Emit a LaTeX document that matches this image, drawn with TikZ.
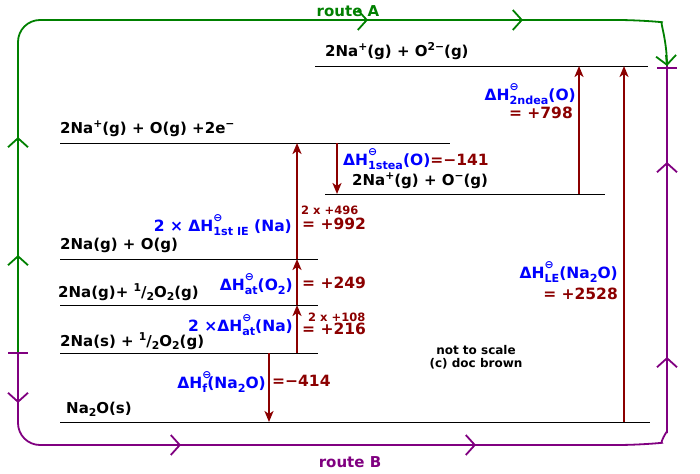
\documentclass[tikz,border=0pt]{standalone}
\usepackage{graphicx}
\usepackage{fontspec}
\setmainfont{DejaVu Sans}
\usetikzlibrary{arrows.meta}
\definecolor{rA}{RGB}{0,128,0}
\definecolor{rB}{RGB}{128,0,128}
\definecolor{dr}{RGB}{139,0,0}
\definecolor{bl}{RGB}{0,0,255}
\newcommand{\sps}[1]{\raisebox{0.4em}{\scalebox{0.72}{#1}}}
\newcommand{\sbs}[1]{\raisebox{-0.25em}{\scalebox{0.72}{#1}}}
\newcommand{\dH}[1]{ΔH\rlap{\raisebox{0.62em}{\scalebox{0.7}{⊖}}}\sbs{#1}}
\newcommand{\half}{\sps{1}/\sbs{2}}
\begin{document}
\begin{tikzpicture}[x=1pt,y=-1pt,
  txt/.style={font=\fontsize{15}{17}\selectfont\bfseries,inner sep=0pt},
  bt/.style={txt,text=bl,font=\fontsize{15.5}{18}\selectfont\bfseries},
  rt/.style={txt,text=dr,font=\fontsize{15.5}{18}\selectfont\bfseries},
  st/.style={font=\fontsize{11.5}{12}\selectfont\bfseries,inner sep=0pt,text=dr},
  lev/.style={black,line width=0.8pt},
  en/.style={dr,line width=2.6pt,-{Stealth[length=11pt,width=9pt,inset=3pt]}},
  chv/.style={-{Straight Barb[length=9pt,width=20pt]},line width=1.8pt}]
\useasboundingbox (0,0) rectangle (700,473);
% levels
\coordinate (L1a) at (315,66); \coordinate (L1b) at (648,66);
\coordinate (L2a) at (60,143); \coordinate (L2b) at (450,143);
\coordinate (L3a) at (325,194); \coordinate (L3b) at (605,194);
\coordinate (L4a) at (60,259); \coordinate (L4b) at (318,259);
\coordinate (L5a) at (60,305); \coordinate (L5b) at (318,305);
\coordinate (L6a) at (60,353); \coordinate (L6b) at (318,353);
\coordinate (L7a) at (60,422); \coordinate (L7b) at (650,422);
\foreach \p in {1,...,7} \draw[lev] (L\p a) -- (L\p b);
\node[txt,anchor=south west] (t1) at (325,60) {2Na\sps{+}(g) + O\sps{2−}(g)};
\node[txt,anchor=south west] (t2) at (60,137) {2Na\sps{+}(g) + O(g) +2e\sps{−}};
\node[txt,anchor=south west] (t3) at (352,189) {2Na\sps{+}(g) + O\sps{−}(g)};
\node[txt,anchor=south west] (t4) at (60,253) {2Na(g) + O(g)};
\node[txt,anchor=south west] (t5) at (58,301) {2Na(g)+ \half O\sbs{2}(g)};
\node[txt,anchor=south west] (t6) at (60,350) {2Na(s) + \half O\sbs{2}(g)};
\node[txt,anchor=south west] (t7) at (66,417) {Na\sbs{2}O(s)};
% energy arrows
\draw[en] (297,353) -- (297,305);
\draw[en] (297,305) -- (297,259);
\draw[en] (297,259) -- (297,143);
\draw[en] (269,353) -- (269,422);
\draw[en] (337,143) -- (337,194);
\draw[en] (579,194) -- (579,66);
\draw[en] (624,422) -- (624,66);
% labels
\node[bt,anchor=east] (a1) at (576,94) {\dH{2ndea}(O)};
\node[rt,anchor=east] (b1) at (573,113) {= +798};
\node[bt,anchor=west] (a2) at (343,159) {\dH{1stea}(O)\textcolor{dr}{=−141}};
\node[bt,anchor=east] (a3) at (292,225) {2 × \dH{1st IE} (Na)};
\node[st,anchor=west] (s3) at (301,210) {2 x +496};
\node[rt,anchor=west] (b3) at (302,224) {= +992};
\node[bt,anchor=east] (a4) at (293,284) {\dH{at}(O\sbs{2})};
\node[rt,anchor=west] (b4) at (302,283) {= +249};
\node[bt,anchor=east] (a5) at (293,325) {2 ×\dH{at}(Na)};
\node[st,anchor=west] (s5) at (308,317) {2 x +108};
\node[rt,anchor=west] (b5) at (302,329) {= +216};
\node[bt,anchor=east] (a6) at (266,382) {\dH{f}(Na\sbs{2}O)};
\node[rt,anchor=west] (b6) at (272,381) {=−414};
\node[bt,anchor=east] (a7) at (618,272) {\dH{LE}(Na\sbs{2}O)};
\node[rt,anchor=east] (b7) at (618,294) {= +2528};
\node[st,text=black,font=\fontsize{12}{13}\selectfont\bfseries] (n1) at (476,350) {not to scale};
\node[st,text=black,font=\fontsize{12}{13}\selectfont\bfseries] (n2) at (476,364) {(c) doc brown};
% routes
\coordinate (S) at (18,353); \coordinate (E) at (667,66);
\draw[rA,line width=1.8pt,rounded corners=22pt] (S) -- (18,20) -- (640,20) .. controls (660,22) and (667,40) .. (E);
\draw[rA,chv] (18,268) -- (18,255);
\draw[rA,chv] (18,150) -- (18,137);
\draw[rA,chv] (355,20) -- (368,20);
\draw[rA,chv] (510,20) -- (523,20);
\draw[rA,chv] (666,55) -- (667,66);
\node[txt,text=rA] (rAl) at (348,11) {route A};
\draw[rB,line width=1.8pt,rounded corners=22pt] (S) -- (18,445) -- (640,445) .. controls (660,443) and (667,430) .. (667,410) -- (E);
\draw[rB,chv] (18,390) -- (18,403);
\draw[rB,chv] (168,445) -- (181,445);
\draw[rB,chv] (463,445) -- (476,445);
\draw[rB,chv] (667,370) -- (667,357);
\draw[rB,chv] (667,175) -- (667,162);
\draw[rB,line width=2pt] (8,353) -- (28,353);
\draw[rB,line width=2pt] (657,68) -- (677,68);
\node[txt,text=rB] (rBl) at (350,462) {route B};
\end{tikzpicture}
\end{document}
